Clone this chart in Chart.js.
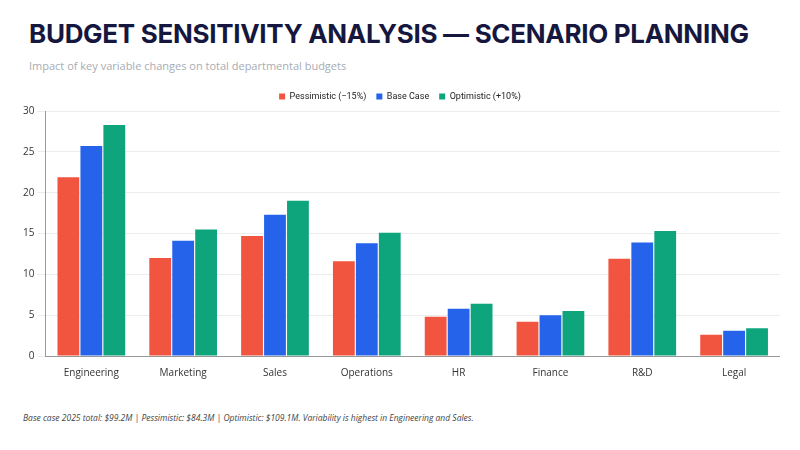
<!DOCTYPE html>
<html>
<head>
<meta charset="utf-8">
<script src="https://cdn.jsdelivr.net/npm/chart.js@4/dist/chart.umd.min.js"></script>
<style>
  body { margin:0; width:800px; height:450px; background:#fff; font-family:"Open Sans", sans-serif; overflow:hidden; }
  #title { position:absolute; left:29px; top:18px; font-family:Inter, sans-serif; font-weight:700; font-size:26px; color:#15173f; letter-spacing:-0.3px; }
  #sub { position:absolute; left:29px; top:58px; font-size:11px; color:#a8acb4; }
  #wrap { position:absolute; left:20px; top:82px; width:760px; height:300px; }
  #foot { position:absolute; left:23px; top:412px; font-size:8.5px; font-style:italic; color:#444; }
</style>
</head>
<body>
<div id="title">BUDGET SENSITIVITY ANALYSIS — SCENARIO PLANNING</div>
<div id="sub">Impact of key variable changes on total departmental budgets</div>
<div id="wrap"><canvas id="chart"></canvas></div>
<div id="foot">Base case 2025 total: $99.2M | Pessimistic: $84.3M | Optimistic: $109.1M. Variability is highest in Engineering and Sales.</div>
<script>
let departments = ["Engineering","Marketing","Sales","Operations","HR","Finance","R&D","Legal"];
let pessimistic = [21.9, 12.0, 14.7, 11.6, 4.8, 4.2, 11.9, 2.6];
let baseCase = [25.7, 14.1, 17.3, 13.8, 5.8, 5.0, 13.9, 3.1];
let optimistic = [28.3, 15.5, 19.0, 15.1, 6.4, 5.5, 15.3, 3.4];

new Chart("chart", {
    type: "bar",
    data: {
        labels: departments,
        datasets: [
            { label: "Pessimistic (\u221215%)", data: pessimistic, backgroundColor: "#f2553f" },
            { label: "Base Case", data: baseCase, backgroundColor: "#2563eb" },
            { label: "Optimistic (+10%)", data: optimistic, backgroundColor: "#0ea47c" }
        ]
    },
    options: {
        responsive: true,
        maintainAspectRatio: false,
        animation: false,
        datasets: { bar: { categoryPercentage: 0.75, barPercentage: 0.95 } },
        plugins: {
            legend: {
                labels: { boxWidth: 6, boxHeight: 6, font: { family: "Roboto", size: 9 }, color: "#222" }
            }
        },
        scales: {
            x: {
                grid: { display: false },
                border: { color: "#999" },
                ticks: { font: { family: "Open Sans", size: 10 }, color: "#333" }
            },
            y: {
                min: 0, max: 30,
                ticks: { stepSize: 5, font: { family: "Open Sans", size: 10 }, color: "#333" },
                grid: { color: "#ececec" },
                border: { color: "#999" }
            }
        }
    }
});
</script>
</body>
</html>
